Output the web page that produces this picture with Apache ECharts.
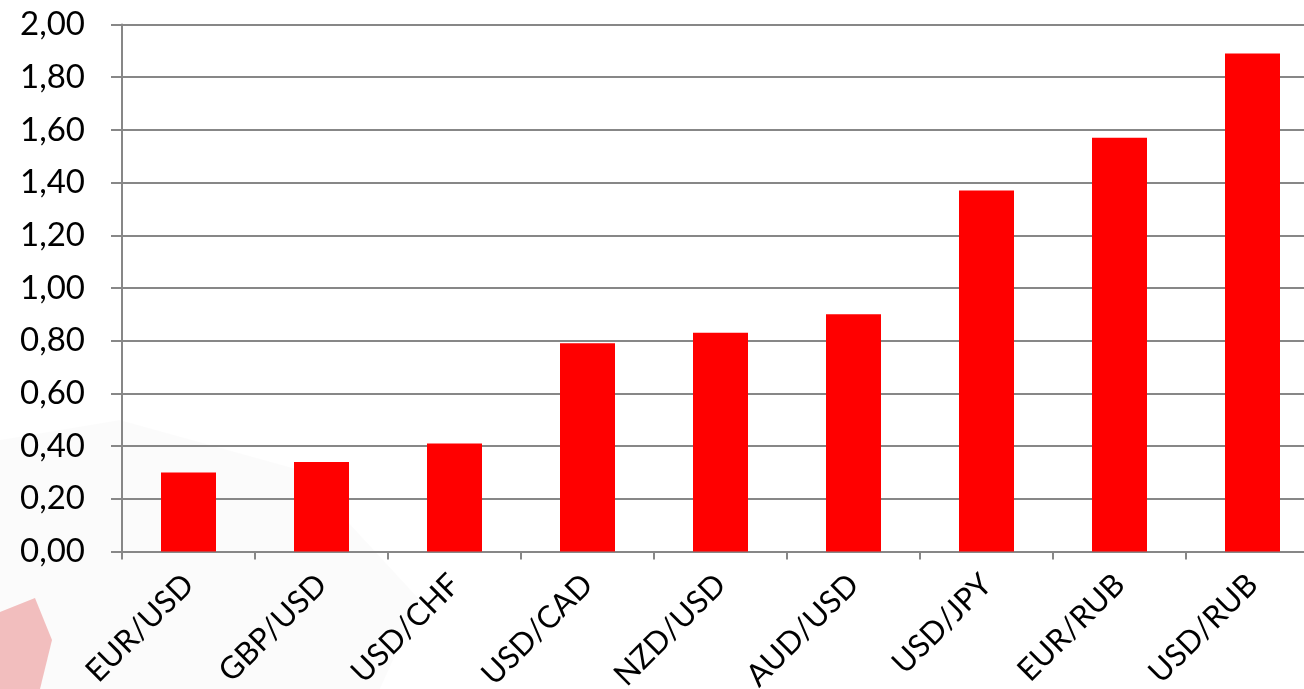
<!DOCTYPE html>
<html>
<head>
<meta charset="utf-8">
<script src="https://cdn.jsdelivr.net/npm/echarts@6/dist/echarts.min.js"></script>
<style>
html,body{margin:0;padding:0;background:#fff;}
#chart{width:1304px;height:689px;}
</style>
</head>
<body>
<div id="chart"></div>
<script>
const categories = ['EUR/USD','GBP/USD','USD/CHF','USD/CAD','NZD/USD','AUD/USD','USD/JPY','EUR/RUB','USD/RUB'];
const values = [0.30, 0.34, 0.41, 0.79, 0.83, 0.90, 1.37, 1.57, 1.89];
const yMin = 0, yMax = 2, yStep = 0.2;

const chart = echarts.init(document.getElementById('chart'));
chart.setOption({
  backgroundColor: '#ffffff',
  animation: false,
  graphic: [
    { type: 'polygon', z: -10, silent: true,
      shape: { points: [[0,612],[35,598],[52,640],[40,689],[0,689]] },
      style: { fill: 'rgba(235,120,120,0.45)' } },
    { type: 'polygon', z: -10, silent: true,
      shape: { points: [[0,440],[120,420],[300,470],[420,600],[380,689],[0,689]] },
      style: { fill: 'rgba(0,0,0,0.015)' } }
  ],
  grid: { left: 122, right: -15, top: 24.5, bottom: 137.5, containLabel: false, outerBoundsMode: 'none' },
  xAxis: {
    type: 'category',
    data: categories,
    axisLine: { lineStyle: { color: '#878787', width: 2 } },
    axisTick: { show: true, length: 8, lineStyle: { color: '#878787', width: 2 } },
    axisLabel: { rotate: 45, margin: 28, color: '#000', fontFamily: 'Lato', fontSize: 31, interval: 0 }
  },
  yAxis: {
    type: 'value',
    min: yMin, max: yMax, interval: yStep,
    axisLine: { show: true, lineStyle: { color: '#878787', width: 2 } },
    axisTick: { show: true, length: 11, lineStyle: { color: '#878787', width: 2 } },
    splitLine: { lineStyle: { color: '#878787', width: 2 } },
    axisLabel: { margin: 37, color: '#000', fontFamily: 'Lato', fontSize: 33,
      formatter: v => v.toFixed(2).replace('.', ',') }
  },
  series: [{
    type: 'bar',
    data: values,
    barWidth: 55,
    itemStyle: { color: '#ff0000' }
  }]
});
</script>
</body>
</html>
